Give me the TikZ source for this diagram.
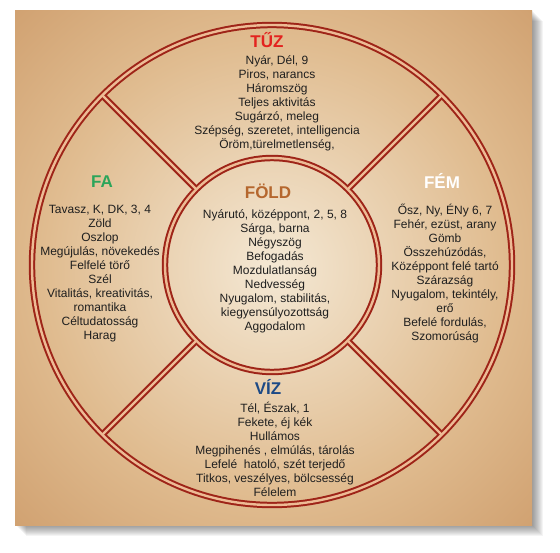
\documentclass[tikz,border=0pt]{standalone}
\usepackage{fontspec}
\setmainfont{Liberation Sans}

\definecolor{ringred}{HTML}{9E2418}
\definecolor{ringgap}{HTML}{EDBB95}
\definecolor{papercream}{HTML}{F4E8D4}
\definecolor{papermid}{HTML}{E0BC90}
\definecolor{papertan}{HTML}{C08550}
\definecolor{tuzred}{HTML}{E3231F}
\definecolor{fagreen}{HTML}{2BA55A}
\definecolor{foldbrown}{HTML}{B5672E}
\definecolor{vizblue}{HTML}{1D4A86}

\pgfdeclareradialshading{paper}{\pgfpoint{0bp}{0bp}}{color(0bp)=(papercream); color(22bp)=(papermid); color(50bp)=(papertan)}

\tikzset{
	title/.style={font=\fontsize{17}{19}\selectfont\bfseries},
	body/.style={font=\fontsize{12}{14}\selectfont, align=center, text=black!88, inner sep=0pt},
}

\begin{document}
\begin{tikzpicture}[x=1pt,y=-1pt]
\useasboundingbox (0,0) rectangle (560,552);

\foreach \s in {1,...,11}
\fill[black, opacity=0.045] (15+\s,10+\s) rectangle (532+\s,525+\s);
\shade[shading=paper] (15,10) rectangle (532,525);

\coordinate (c) at (272,265);

\foreach \w/\col in {6.4pt/ringred, 2.4pt/ringgap} {
	\draw[\col, line width=\w] (c) circle (240);
	\draw[\col, line width=\w] (c) circle (107);
	\foreach \a in {45,135,225,315}
	\draw[\col, line width=\w] ([shift={(\a:107)}]c) -- ([shift={(\a:240)}]c);
}

\node[title, text=tuzred] (tuz) at (267,40) {TŰZ};
\node[body] (tuztext) at (277,103) {Nyár, Dél, 9\\Piros, narancs\\Háromszög\\Teljes aktivitás\\Sugárzó, meleg\\Szépség, szeretet, intelligencia\\Öröm,türelmetlenség,};

\node[title, text=fagreen] (fa) at (102,182) {FA};
\node[body] (fatext) at (100,274) {Tavasz, K, DK, 3, 4\\Zöld\\Oszlop\\Megújulás, növekedés\\Felfelé törő\\Szél\\Vitalitás, kreativitás,\\romantika\\Céltudatosság\\Harag};

\node[title, text=white] (fem) at (442,181) {FÉM};
\node[body] (femtext) at (445,274) {Ősz, Ny, ÉNy 6, 7\\Fehér, ezüst, arany\\Gömb\\Összehúzódás,\\Középpont felé tartó\\Szárazság\\Nyugalom, tekintély,\\erő\\Befelé fordulás,\\Szomorúság};

\node[title, text=foldbrown] (fold) at (268,191) {FÖLD};
\node[body] (foldtext) at (275,271) {Nyárutó, középpont, 2, 5, 8\\Sárga, barna\\Négyszög\\Befogadás\\Mozdulatlanság\\Nedvesség\\Nyugalom, stabilitás,\\kiegyensúlyozottság\\Aggodalom};

\node[title, text=vizblue] (viz) at (268,387) {VÍZ};
\node[body] (viztext) at (275,449) {Tél, Észak, 1\\Fekete, éj kék\\Hullámos\\Megpihenés , elmúlás, tárolás\\Lefelé\ \ hatoló, szét terjedő\\Titkos, veszélyes, bölcsesség\\Félelem};

\end{tikzpicture}
\end{document}
